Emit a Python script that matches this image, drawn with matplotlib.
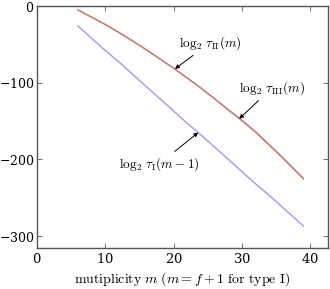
import matplotlib
matplotlib.use('Agg')
import matplotlib.pyplot as plt
import numpy as np

plt.rcParams['mathtext.fontset'] = 'cm'
plt.rcParams['font.family'] = 'serif'
plt.rcParams['font.serif'] = ['DejaVu Serif']
plt.rcParams['axes.formatter.use_mathtext'] = True

# multiplicity m
m = [6, 8, 10, 12, 14, 16, 18, 20, 22, 24, 26, 28, 30, 32, 34, 36, 38, 39]
# values
tau_II = [-5, -14.5, -24, -34.5, -45.5, -57, -69, -81, -94, -107, -121, -135,
          -149, -164, -181, -198, -216, -225]
tau_III = [-5, -14.5, -24, -34.5, -45.5, -57, -69, -81, -94, -107, -121, -136,
           -150, -165, -182, -199, -217, -226]
tau_I = [-26, -42, -58, -73, -89, -105, -121, -137, -153, -168, -184, -200,
         -216, -232, -247, -263, -279, -287]

xticks = [0, 10, 20, 30, 40]
yticks = [0, -100, -200, -300]

fig = plt.figure(figsize=(3.3, 2.89), dpi=100)
ax = fig.add_axes([0.112, 0.142, 0.882, 0.837])

ax.plot(m, tau_II, color='#d27a72', lw=1.1)
ax.plot(m, tau_III, color='#b8806c', lw=0.8, alpha=0.6)
ax.plot(m, tau_I, color='#a3a3f5', lw=1.1)

ax.set_xlim(0, 42.6)
ax.set_ylim(-315.6, 0)
ax.set_xticks(xticks)
ax.set_yticks(yticks)
ax.tick_params(direction='in', top=True, right=True, labelsize=9.5,
               length=3.5, width=0.6, color='#555555', pad=3)
ax.tick_params(axis='y', pad=2, labelsize=9)
for s in ax.spines.values():
    s.set_color('#555555')
    s.set_linewidth(1.0)

ax.set_xlabel(r'$\mathrm{mutiplicity}\ m\ (m = f+1\ \mathrm{for\ type\ I})$',
              fontsize=10, va='center')
ax.xaxis.set_label_coords(0.5, -0.128)

arrow = dict(arrowstyle='-|>', color='black', lw=0.7, mutation_scale=6,
             shrinkA=1, shrinkB=0)
ax.annotate(r'$\log_2\,\tau_{\mathrm{II}}(m)$', xy=(20.2, -82), xytext=(25.3, -48),
            ha='center', va='center', fontsize=9.5, arrowprops=arrow)
ax.annotate(r'$\log_2\,\tau_{\mathrm{III}}(m)$', xy=(29.6, -147), xytext=(34.4, -107),
            ha='center', va='center', fontsize=9.5, arrowprops=arrow)
ax.annotate(r'$\log_2\,\tau_{\mathrm{I}}(m-1)$', xy=(23.6, -165), xytext=(17.9, -206),
            ha='center', va='center', fontsize=9.5, arrowprops=arrow)

fig.savefig('out.png', dpi=100)
